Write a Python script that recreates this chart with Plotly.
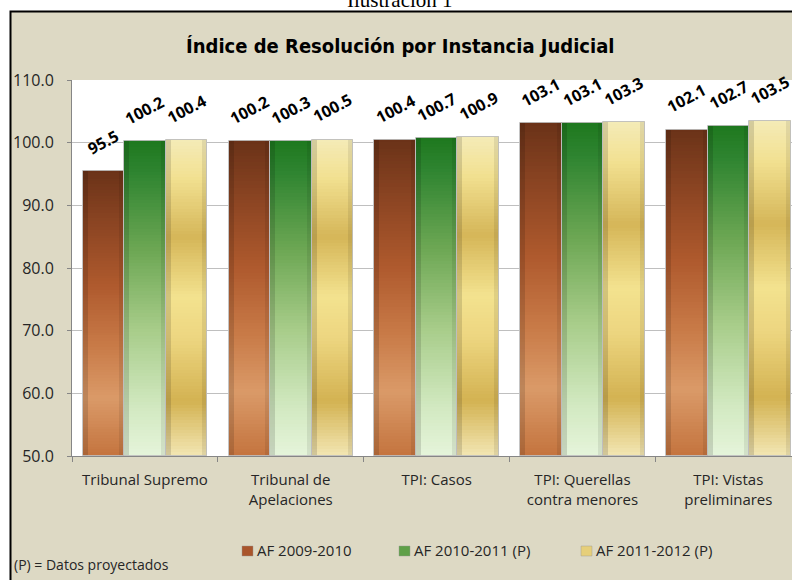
import plotly.graph_objects as go

# ---------------- data ----------------
categories = ["Tribunal Supremo", "Tribunal de<br>Apelaciones", "TPI: Casos",
              "TPI: Querellas<br>contra menores", "TPI: Vistas<br>preliminares"]
series_names = ["AF 2009-2010", "AF 2010-2011 (P)", "AF 2011-2012 (P)"]
af_2009_2010 = [95.5, 100.2, 100.4, 103.1, 102.1]
af_2010_2011 = [100.2, 100.3, 100.7, 103.1, 102.7]
af_2011_2012 = [100.4, 100.5, 100.9, 103.3, 103.5]
y_ticks = [50, 60, 70, 80, 90, 100, 110]
series_values = [af_2009_2010, af_2010_2011, af_2011_2012]

# ---------------- style ----------------
W, H = 792, 580
ML, MR, MT, MB = 72, 0, 80, 124
PW, PH = W - ML - MR, H - MT - MB
CAT_PX = 145.85
X0 = -0.5
X1 = X0 + PW / CAT_PX
Y0, Y1 = 50, 110
BAR_W = 41.5 / CAT_PX

BEIGE = "#DDD9C4"
FONT = "'Open Sans', Lato, sans-serif"
TXT = "#262626"

gradients = [
    [(0, "#6A3218"), (0.18, "#8A4422"), (0.4, "#AE592D"), (0.62, "#C97B48"),
     (0.8, "#DA9A68"), (1, "#C4743F")],
    [(0, "#1E781E"), (0.1, "#2E8430"), (0.35, "#6DA754"), (0.6, "#A7CC89"),
     (0.85, "#D2E9C1"), (1, "#E5F4DA")],
    [(0, "#F4EBB8"), (0.12, "#F2E192"), (0.31, "#D5B658"), (0.5, "#F3E28F"),
     (0.63, "#EDD680"), (0.83, "#D3B252"), (1, "#F2E6B2")],
]
legend_colors = ["#A9552B", "#5FA048", "#E6CF7A"]


def hex2rgb(h):
    h = h.lstrip("#")
    return tuple(int(h[i:i + 2], 16) for i in (0, 2, 4))


def grad_color(stops, t):
    for (t0, c0), (t1, c1) in zip(stops[:-1], stops[1:]):
        if t <= t1:
            f = 0 if t1 == t0 else (t - t0) / (t1 - t0)
            a, b = hex2rgb(c0), hex2rgb(c1)
            return "rgb(%d,%d,%d)" % tuple(round(a[k] + (b[k] - a[k]) * f) for k in range(3))
    return stops[-1][1]


def pxx(px):
    return (px - ML) / PW


def pxy(py):
    return (MT + PH - py) / PH


fig = go.Figure()
N = 100
for j, vals in enumerate(series_values):
    xs = [i + (j - 1) * BAR_W for i in range(len(categories))]
    for k in range(N):
        t = (k + 0.5) / N
        seg = [(v - Y0) / N for v in vals]
        base = [v - (v - Y0) * (k + 1) / N for v in vals]
        fig.add_trace(go.Bar(
            x=xs, y=[s * 1.3 for s in seg], base=base, width=BAR_W,
            marker=dict(color=grad_color(gradients[j], t), line=dict(width=0)),
            showlegend=False, hoverinfo="skip"))
    # edge shading for a 3D look
    fig.add_trace(go.Bar(
        x=[x - BAR_W * 0.44 for x in xs], y=[v - Y0 for v in vals], base=Y0,
        width=BAR_W * 0.12, marker=dict(color="rgba(0,0,0,0.13)", line=dict(width=0)),
        showlegend=False, hoverinfo="skip"))
    fig.add_trace(go.Bar(
        x=[x + BAR_W * 0.44 for x in xs], y=[v - Y0 for v in vals], base=Y0,
        width=BAR_W * 0.12, marker=dict(color="rgba(0,0,0,0.08)", line=dict(width=0)),
        showlegend=False, hoverinfo="skip"))
    # outline
    fig.add_trace(go.Bar(
        x=xs, y=[v - Y0 for v in vals], base=Y0, width=BAR_W, name=series_names[j],
        marker=dict(color="rgba(0,0,0,0)", line=dict(color="rgba(190,190,190,0.9)", width=1)),
        showlegend=False,
        hovertemplate=series_names[j] + ": %{customdata:.1f}<extra></extra>",
        customdata=vals))

annotations = []
for j, vals in enumerate(series_values):
    for i, v in enumerate(vals):
        annotations.append(dict(
            x=i + (j - 1) * BAR_W, y=v, xref="x", yref="y", text="%.1f" % v,
            showarrow=False, textangle=-28, xanchor="center", yanchor="bottom",
            yshift=9, font=dict(family=FONT, size=16, color="#000000", weight="bold")))

# titles
annotations.append(dict(
    x=pxx(400), y=pxy(46), xref="paper", yref="paper",
    text="Índice de Resolución por Instancia Judicial", showarrow=False,
    xanchor="center", yanchor="middle",
    font=dict(family="'Liberation Sans Narrow', 'DejaVu Sans Condensed', sans-serif",
              size=20, color="#000000", weight="bold")))
annotations.append(dict(
    x=pxx(400), y=pxy(0), xref="paper", yref="paper", text="Ilustración 1",
    showarrow=False, xanchor="center", yanchor="middle",
    font=dict(family="'Liberation Serif', 'Times New Roman', serif", size=21, color="#000000")))
annotations.append(dict(
    x=pxx(12), y=pxy(564), xref="paper", yref="paper", text="(P) = Datos proyectados",
    showarrow=False, xanchor="left", yanchor="middle",
    font=dict(family=FONT, size=14, color=TXT)))

shapes = [
    dict(type="rect", xref="paper", yref="paper", x0=pxx(10.5), x1=pxx(820),
         y0=pxy(620), y1=pxy(11.5), fillcolor=BEIGE, line=dict(color="#000000", width=2),
         layer="below"),
    dict(type="rect", xref="paper", yref="paper", x0=0, x1=1, y0=0, y1=1,
         fillcolor="#FFFFFF", line=dict(width=0), layer="below"),
]

# manual legend
legend_sw = [242, 399, 581]
for j, name in enumerate(series_names):
    shapes.append(dict(type="rect", xref="paper", yref="paper",
                       x0=pxx(legend_sw[j]), x1=pxx(legend_sw[j] + 11),
                       y0=pxy(556), y1=pxy(546), fillcolor=legend_colors[j],
                       line=dict(color="rgba(150,150,150,0.8)", width=0.5)))
    annotations.append(dict(
        x=pxx(legend_sw[j] + 13), y=pxy(550), xref="paper", yref="paper", text=name,
        showarrow=False, xanchor="left", yanchor="middle",
        font=dict(family=FONT, size=15, color=TXT)))

fig.update_layout(
    width=W, height=H, barmode="overlay", bargap=0,
    margin=dict(l=ML, r=MR, t=MT, b=MB, pad=0),
    paper_bgcolor="#FFFFFF", plot_bgcolor="#FFFFFF",
    showlegend=False, annotations=annotations, shapes=shapes,
    font=dict(family=FONT, size=15, color=TXT),
    xaxis=dict(range=[X0, X1], tickmode="array", tickvals=list(range(len(categories))),
               ticktext=categories, ticks="", showgrid=False, zeroline=False,
               showline=True, linecolor="#868686", linewidth=1,
               tickfont=dict(family=FONT, size=15, color=TXT), ticklabelstandoff=10,
               minor=dict(tickmode="array",
                          tickvals=[i - 0.5 for i in range(len(categories) + 1)],
                          ticks="outside", ticklen=5, tickcolor="#868686", showgrid=False)),
    yaxis=dict(range=[Y0, Y1], tickmode="array", tickvals=y_ticks,
               ticktext=["%.1f" % t for t in y_ticks], showgrid=True, gridcolor="#BFBFBF",
               zeroline=False, showline=True, linecolor="#868686", linewidth=1,
               ticks="outside", ticklen=4, tickcolor="#868686",
               tickfont=dict(family=FONT, size=16, color=TXT), ticklabelstandoff=10),
)

fig.write_html("out.html", config={"displayModeBar": False},
               post_script="document.body.style.margin='0';")
